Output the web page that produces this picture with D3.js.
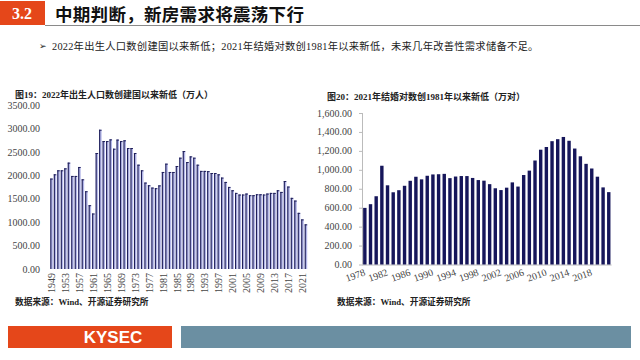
<!DOCTYPE html>
<html><head><meta charset="utf-8">
<script src="https://cdn.jsdelivr.net/npm/d3@7"></script>
<style>body{margin:0;background:#fff;}svg{display:block;}</style>
</head><body>
<svg id="c" width="640" height="360"></svg>
<script>
const birthYears = d3.range(1949, 2023);
const births = [1936,2027,2113,2113,2155,2277,1992,1992,2184,1920,1665,1366,1188,2483,2981,2739,2739,2775,2575,2770,2739,2755,2590,2590,2483,2233,2113,1850,1793,1743,1730,1790,2077,2255,2077,2077,2205,2383,2525,2290,2411,2383,2233,2100,2100,2095,2055,2055,2027,1957,1864,1757,1686,1629,1594,1594,1615,1580,1580,1600,1600,1594,1615,1629,1629,1686,1650,1883,1765,1523,1465,1202,1062,956];
const birthTicks = [0,500,1000,1500,2000,2500,3000,3500];
const birthLabelYears = d3.range(1949, 2022, 4);

const marriageYears = d3.range(1978, 2022);
const marriages = [597.8,637.1,720.9,1043,836.4,762.8,784.7,831.3,884,926.7,899.2,937.2,951.1,953.4,957.3,912.1,929,934.1,934,914.1,891.7,885.3,848.5,805,786,811.4,867.2,823.1,945,991.4,1098.3,1212.4,1241,1302.4,1323.6,1346.9,1306.7,1224.7,1142.8,1063.1,1013.9,927.3,814.3,764.3];
const marriageTicks = [0,200,400,600,800,1000,1200,1400,1600];
const marriageLabelYears = d3.range(1978, 2022, 4);

const headerNum = "3.2";
const headerTitle = "中期判断，新房需求将震荡下行";
const bullet = "2022年出生人口数创建国以来新低；2021年结婚对数创1981年以来新低，未来几年改善性需求储备不足。";
const title1 = "图19：2022年出生人口数创建国以来新低（万人）";
const title2 = "图20：2021年结婚对数创1981年以来新低（万对）";
const source = "数据来源：Wind、开源证券研究所";

const svg = d3.select("#c");
const serif = "'Liberation Serif','DejaVu Serif',serif";
const cjk = "'Noto Sans CJK SC',sans-serif";

// header
svg.append("rect").attr("x",0).attr("y",1).attr("width",45).attr("height",24).attr("fill","#e5471a");
svg.append("text").attr("x",22).attr("y",19).attr("text-anchor","middle").attr("fill","#fff")
  .attr("font-family",serif).attr("font-weight","bold").attr("font-size",16).text(headerNum);
svg.append("text").attr("x",55).attr("y",20.5).attr("font-family",cjk).attr("font-weight","bold")
  .attr("font-size",17.5).attr("letter-spacing",0.3).attr("fill","#111").text(headerTitle);
svg.append("line").attr("x1",45).attr("x2",640).attr("y1",25.5).attr("y2",25.5).attr("stroke","#8a8a8a").attr("stroke-width",1);

svg.append("text").attr("x",39).attr("y",49).attr("font-size",9).attr("font-family",cjk).attr("fill","#222").text("➢");
svg.append("text").attr("x",52).attr("y",49.5).attr("font-family",serif+","+cjk).attr("font-size",10.3).attr("letter-spacing",0.25).attr("fill","#222").text(bullet);

// chart 1
svg.append("text").attr("x",15).attr("y",98).attr("font-family",serif+","+cjk).attr("font-weight","bold")
  .attr("font-size",9).attr("fill","#222").text(title1);
const x1 = d3.scaleBand().domain(birthYears).range([50.3,307.2]).paddingInner(0.28);
const y1 = d3.scaleLinear().domain([0,3500]).range([269,105.5]);
const g1 = svg.append("g");
g1.selectAll("text.yt").data(birthTicks).join("text").attr("class","yt")
  .attr("x",40).attr("y",d=>y1(d)+3.5).attr("text-anchor","end")
  .attr("font-family",serif).attr("font-size",10).attr("fill","#444").text(d=>d.toFixed(2));
g1.selectAll("rect.b").data(births).join("rect").attr("class","b")
  .attr("x",(d,i)=>x1(birthYears[i])).attr("width",x1.bandwidth())
  .attr("y",d=>y1(d)).attr("height",d=>y1(0)-y1(d)).attr("fill","#b3b6e8");
g1.selectAll("rect.e").data(births).join("rect").attr("class","e")
  .attr("x",(d,i)=>x1(birthYears[i])).attr("width",1.1)
  .attr("y",d=>y1(d)).attr("height",d=>y1(0)-y1(d)).attr("fill","#20205a");
g1.selectAll("rect.t").data(births).join("rect").attr("class","t")
  .attr("x",(d,i)=>x1(birthYears[i])).attr("width",x1.bandwidth())
  .attr("y",d=>y1(d)).attr("height",1).attr("fill","#20205a");
g1.selectAll("text.xt").data(birthLabelYears).join("text").attr("class","xt")
  .attr("transform",d=>`translate(${x1(d)+x1.bandwidth()/2+3.5},273) rotate(-90)`)
  .attr("text-anchor","end").attr("font-family",serif).attr("font-size",10).attr("fill","#444").text(d=>d);
svg.append("text").attr("x",15).attr("y",305).attr("font-family",serif+","+cjk).attr("font-weight","bold")
  .attr("font-size",8.7).attr("fill","#222").text(source);

// chart 2
svg.append("text").attr("x",327).attr("y",100).attr("font-family",serif+","+cjk).attr("font-weight","bold")
  .attr("font-size",9).attr("fill","#222").text(title2);
const x2 = d3.scaleBand().domain(marriageYears).range([362,611.6]).paddingInner(0.4).paddingOuter(0.2);
const y2 = d3.scaleLinear().domain([0,1600]).range([264.5,113]);
const g2 = svg.append("g");
g2.append("line").attr("x1",362.5).attr("x2",362.5).attr("y1",y2(1600)).attr("y2",y2(0)).attr("stroke","#bbb");
g2.selectAll("line.tk").data(marriageTicks).join("line").attr("class","tk")
  .attr("x1",359).attr("x2",362.5).attr("y1",d=>y2(d)+0.5).attr("y2",d=>y2(d)+0.5).attr("stroke","#bbb");
g2.append("line").attr("x1",362).attr("x2",611.6).attr("y1",y2(0)+0.5).attr("y2",y2(0)+0.5).attr("stroke","#bbb");
g2.selectAll("text.yt").data(marriageTicks).join("text").attr("class","yt")
  .attr("x",352).attr("y",d=>y2(d)+3.5).attr("text-anchor","end")
  .attr("font-family",serif).attr("font-size",10).attr("fill","#444").text(d=>d3.format(",.2f")(d));
g2.selectAll("rect.b").data(marriages).join("rect").attr("class","b")
  .attr("x",(d,i)=>x2(marriageYears[i])).attr("width",x2.bandwidth())
  .attr("y",d=>y2(d)).attr("height",d=>y2(0)-y2(d)).attr("fill","#16165a");
g2.selectAll("text.xt").data(marriageLabelYears).join("text").attr("class","xt")
  .attr("transform",d=>`translate(${x2(d)+x2.bandwidth()/2+1},275) rotate(-20)`)
  .attr("text-anchor","end").attr("font-family",serif).attr("font-size",10).attr("fill","#444").text(d=>d);
svg.append("text").attr("x",337).attr("y",305).attr("font-family",serif+","+cjk).attr("font-weight","bold")
  .attr("font-size",8.7).attr("fill","#222").text(source);

// footer
svg.append("rect").attr("x",8).attr("y",326).attr("width",164).attr("height",22).attr("fill","#e5471a");
svg.append("text").attr("x",113).attr("y",343).attr("text-anchor","middle").attr("fill","#fff")
  .attr("font-family","'Liberation Sans',Arial,sans-serif").attr("font-weight","bold").attr("font-size",17).text("KYSEC");
svg.append("rect").attr("x",181).attr("y",326).attr("width",450).attr("height",22).attr("fill","#6b8fa2");
</script>
</body></html>
